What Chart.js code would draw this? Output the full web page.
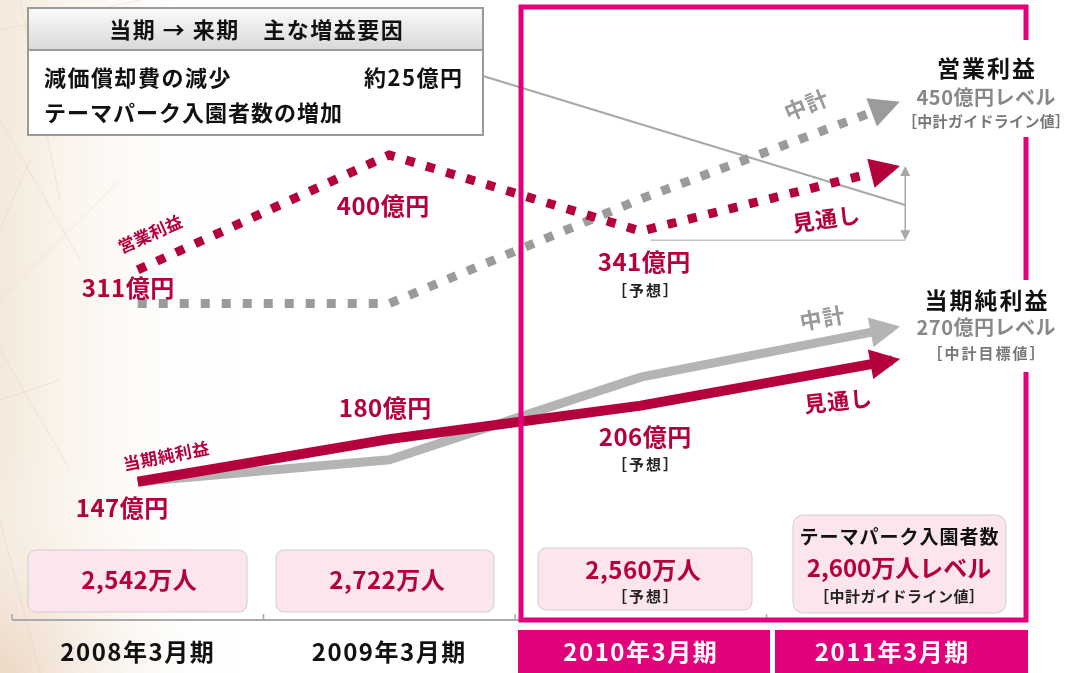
<!DOCTYPE html>
<html><head><meta charset="utf-8">
<script src="https://cdn.jsdelivr.net/npm/chart.js@4.4.0/dist/chart.umd.min.js"></script>
<style>html,body{margin:0;padding:0;background:#fff;overflow:hidden}#wrap{position:relative;width:1065px;height:673px}</style>
</head><body><div id="wrap"><canvas id="c"></canvas></div>
<script>
// ---- data ----
const categories = ['2008年3月期', '2009年3月期', '2010年3月期', '2011年3月期'];
const operatingOutlook = [311, 400, 341, 390];   // 営業利益 実績 → 見通し
const operatingPlan    = [285, 285, 366, 439];   // 中計 (営業利益)
const netOutlook       = [147, 180, 206, 241];   // 当期純利益 実績 → 見通し
const netPlan          = [147, 164, 228, 266];   // 中計 (当期純利益)
const operatingLabels  = ['311億円', '400億円', '341億円'];
const netLabels        = ['147億円', '180億円', '206億円'];
const visitorLabels    = ['2,542万人', '2,722万人', '2,560万人', '2,600万人レベル'];

const CRIMSON = '#b5003e', MAGENTA = '#e3007b', GRAYD = '#9b9b9b', GRAYS = '#b4b4b4';
const FF = '"Noto Sans CJK JP","Noto Sans",sans-serif';

function T(ctx, s, x, y, size, color, opt = {}) {
  ctx.save();
  ctx.translate(x, y);
  if (opt.rot) ctx.rotate(opt.rot * Math.PI / 180);
  ctx.font = `${opt.w || 'bold'} ${size}px ${FF}`;
  ctx.letterSpacing = (opt.ls || 0) + 'px';
  ctx.fillStyle = color;
  ctx.textAlign = opt.align || 'center';
  ctx.textBaseline = 'middle';
  let dx = 0;
  if ((opt.align || 'center') === 'center') dx = (opt.ls || 0) / 2;
  if (opt.align === 'right') dx = (opt.ls || 0);
  ctx.fillText(s, dx, 0);
  ctx.restore();
}
function rr(ctx, x, y, w, h, r, fill, stroke) {
  ctx.beginPath(); ctx.roundRect(x, y, w, h, r);
  if (fill) { ctx.fillStyle = fill; ctx.fill(); }
  if (stroke) { ctx.strokeStyle = stroke; ctx.lineWidth = 1; ctx.stroke(); }
}
function arrowHead(chart, i, color, L, W) {
  const ctx = chart.ctx;
  const pts = chart.getDatasetMeta(i).data;
  const a = pts[pts.length - 2], b = pts[pts.length - 1];
  let dx = b.x - a.x, dy = b.y - a.y; const d = Math.hypot(dx, dy); dx /= d; dy /= d;
  const tx = b.x + dx * 8, ty = b.y + dy * 8, bx = tx - dx * L, by = ty - dy * L;
  ctx.save(); ctx.fillStyle = color; ctx.beginPath();
  ctx.moveTo(tx, ty); ctx.lineTo(bx - dy * W / 2, by + dx * W / 2); ctx.lineTo(bx + dy * W / 2, by - dx * W / 2);
  ctx.closePath(); ctx.fill(); ctx.restore();
}
function smallArrow(ctx, x, y, up) {
  ctx.beginPath(); ctx.moveTo(x, y); ctx.lineTo(x - 5, y + (up ? 10 : -10)); ctx.lineTo(x + 5, y + (up ? 10 : -10)); ctx.closePath(); ctx.fill();
}

const deco = {
  id: 'deco',
  beforeDraw(chart) {
    const { ctx, width, height, chartArea } = chart;
    ctx.save();
    ctx.fillStyle = '#fff'; ctx.fillRect(0, 0, width, height);
    let g = ctx.createLinearGradient(0, 0, 240, 0);
    g.addColorStop(0, 'rgba(240,226,206,0.75)'); g.addColorStop(0.45, 'rgba(248,240,228,0.4)'); g.addColorStop(1, 'rgba(255,255,255,0)');
    ctx.fillStyle = g; ctx.fillRect(0, 0, 240, height);
    let g2 = ctx.createRadialGradient(0, 673, 10, 0, 673, 220);
    g2.addColorStop(0, 'rgba(236,214,196,0.8)'); g2.addColorStop(1, 'rgba(255,255,255,0)');
    ctx.fillStyle = g2; ctx.fillRect(0, 400, 260, 273);
    ctx.strokeStyle = 'rgba(215,200,180,0.35)'; ctx.lineWidth = 1;
    [[0, 30, 140, 0], [0, 120, 80, 260], [20, 0, 60, 200], [0, 300, 120, 180], [0, 350, 70, 470], [0, 400, 60, 380], [0, 520, 40, 673], [30, 160, 0, 230]].forEach(l => {
      ctx.beginPath(); ctx.moveTo(l[0], l[1]); ctx.lineTo(l[2], l[3]); ctx.stroke();
    });
    ctx.fillStyle = MAGENTA;
    ctx.fillRect(518, chartArea.bottom + 10, 252, height - chartArea.bottom - 10);
    ctx.fillRect(775, chartArea.bottom + 10, 253, height - chartArea.bottom - 10);
    ctx.restore();
    ctx.letterSpacing = '1.5px'; // spacing for the axis tick labels
  },
  beforeDatasetsDraw(chart) {
    const { ctx, chartArea, scales } = chart;
    ctx.letterSpacing = '0px';
    const x = scales.x;
    const cw = x.getPixelForValue(1) - x.getPixelForValue(0);
    ctx.save();
    ctx.strokeStyle = '#aaaaaa'; ctx.lineWidth = 2;
    ctx.beginPath(); ctx.moveTo(chartArea.left, chartArea.bottom); ctx.lineTo(chartArea.right, chartArea.bottom); ctx.stroke();
    ctx.lineWidth = 1.5;
    for (let i = 0; i < 4; i++) {
      const bx = x.getPixelForValue(i) - cw / 2;
      ctx.beginPath(); ctx.moveTo(bx, chartArea.bottom - 6); ctx.lineTo(bx, chartArea.bottom); ctx.stroke();
    }
    rr(ctx, 28, 550, 219, 62, 8, '#fde5ef', '#cfcfcf');
    rr(ctx, 276, 550, 218, 62, 8, '#fde5ef', '#cfcfcf');
    rr(ctx, 538, 548, 214, 62, 8, '#fde5ef', '#cfcfcf');
    rr(ctx, 793, 515, 213, 98, 10, '#fde5ef', '#cfcfcf');
    T(ctx, visitorLabels[0], 139, 580, 24, CRIMSON, { ls: 0.5 });
    T(ctx, visitorLabels[1], 387, 580, 24, CRIMSON, { ls: 0.5 });
    T(ctx, visitorLabels[2], 643, 570, 24, CRIMSON, { ls: 0.5 });
    T(ctx, '［予想］', 645, 596, 15, '#222', { ls: 2 });
    T(ctx, 'テーマパーク入園者数', 899, 537, 19, '#111', { ls: 1 });
    T(ctx, visitorLabels[3], 899, 568, 24, CRIMSON, { ls: 0 });
    T(ctx, '［中計ガイドライン値］', 899, 596, 15, '#222', { ls: 0.5 });
    ctx.fillStyle = '#fff'; ctx.fillRect(28, 8, 455, 127);
    let g = ctx.createLinearGradient(0, 9, 0, 50);
    g.addColorStop(0, '#fafafa'); g.addColorStop(1, '#d9d9d9');
    ctx.fillStyle = g; ctx.fillRect(29, 9, 453, 41);
    ctx.strokeStyle = '#9a9a9a'; ctx.lineWidth = 2;
    ctx.strokeRect(28, 8, 455, 127);
    ctx.beginPath(); ctx.moveTo(28, 50); ctx.lineTo(483, 50); ctx.stroke();
    T(ctx, '当期 → 来期　主な増益要因', 256, 30, 22, '#111', { ls: 1.5 });
    T(ctx, '減価償却費の減少', 44, 78, 22, '#111', { align: 'left', ls: 1.5 });
    T(ctx, '約25億円', 462, 78, 22, '#111', { align: 'right', ls: 1.5 });
    T(ctx, 'テーマパーク入園者数の増加', 44, 113, 22, '#111', { align: 'left', ls: 1 });
    const y = scales.y;
    const pts0 = chart.getDatasetMeta(0).data;
    const vx = pts0[3].x + 13;
    const yTop = y.getPixelForValue(operatingOutlook[3]) - 2, yBot = y.getPixelForValue(operatingOutlook[2]) + 9;
    ctx.strokeStyle = '#a8a8a8'; ctx.lineWidth = 2;
    ctx.beginPath(); ctx.moveTo(483, 76); ctx.lineTo(vx, 205); ctx.stroke();
    ctx.strokeStyle = '#c4c4c4'; ctx.lineWidth = 1.5;
    ctx.beginPath(); ctx.moveTo(pts0[2].x + 10, yBot); ctx.lineTo(vx, yBot); ctx.stroke();
    ctx.strokeStyle = '#a8a8a8';
    ctx.beginPath(); ctx.moveTo(vx, yTop + 6); ctx.lineTo(vx, yBot - 6); ctx.stroke();
    ctx.fillStyle = '#a8a8a8'; smallArrow(ctx, vx, yTop, true); smallArrow(ctx, vx, yBot, false);
    ctx.restore();
  },
  afterDatasetsDraw(chart) {
    const { ctx } = chart;
    arrowHead(chart, 1, GRAYD, 30, 30);
    arrowHead(chart, 0, CRIMSON, 30, 30);
    arrowHead(chart, 3, GRAYS, 30, 30);
    arrowHead(chart, 2, CRIMSON, 30, 30);
    ctx.save();
    ctx.strokeStyle = MAGENTA; ctx.lineWidth = 5;
    ctx.strokeRect(521, 7, 505, 613);
    ctx.fillStyle = '#fff';
    ctx.fillRect(912, 40, 153, 97);
    ctx.fillRect(912, 280, 153, 92);
    T(ctx, '営業利益', 986, 68, 23, '#111', { ls: 2 });
    T(ctx, '450億円レベル', 986, 97, 20, '#888', { ls: 0.5 });
    T(ctx, '［中計ガイドライン値］', 986, 121, 15, '#777', { ls: 0.3 });
    T(ctx, '当期純利益', 986, 300, 23, '#111', { ls: 2 });
    T(ctx, '270億円レベル', 986, 327, 20, '#888', { ls: 0.5 });
    T(ctx, '［中計目標値］', 986, 353, 15, '#777', { ls: 2 });
    T(ctx, operatingLabels[0], 128, 288, 24, CRIMSON, { ls: 0.5 });
    T(ctx, operatingLabels[1], 383, 206, 24, CRIMSON, { ls: 0.5 });
    T(ctx, operatingLabels[2], 644, 262, 24, CRIMSON, { ls: 0.5 });
    T(ctx, '［予想］', 645, 290, 15, '#222', { ls: 2 });
    T(ctx, netLabels[0], 122, 508, 24, CRIMSON, { ls: 0.5 });
    T(ctx, netLabels[1], 385, 408, 24, CRIMSON, { ls: 0.5 });
    T(ctx, netLabels[2], 645, 437, 24, CRIMSON, { ls: 0.5 });
    T(ctx, '［予想］', 645, 464, 15, '#222', { ls: 2 });
    T(ctx, '営業利益', 150, 234, 17, CRIMSON, { rot: -24 });
    T(ctx, '当期純利益', 166, 456, 17, CRIMSON, { rot: -11, ls: 0.5 });
    T(ctx, '中計', 806, 105, 22, '#999', { rot: -22, ls: 1 });
    T(ctx, '見通し', 826, 219, 22, CRIMSON, { rot: -8, ls: 1 });
    T(ctx, '中計', 822, 318, 22, '#999', { rot: -10, ls: 1 });
    T(ctx, '見通し', 838, 401, 22, CRIMSON, { rot: -6, ls: 1 });
    ctx.restore();
  }
};

new Chart(document.getElementById('c'), {
  type: 'line',
  data: {
    labels: categories,
    datasets: [
      { label: '営業利益 見通し', data: operatingOutlook, borderColor: CRIMSON, borderWidth: 9, borderDash: [9, 12], borderCapStyle: 'butt', pointRadius: 0, tension: 0 },
      { label: '営業利益 中計', data: operatingPlan, borderColor: GRAYD, borderWidth: 9, borderDash: [9, 12], borderCapStyle: 'butt', pointRadius: 0, tension: 0 },
      { label: '当期純利益 見通し', data: netOutlook, borderColor: CRIMSON, borderWidth: 10, borderCapStyle: 'butt', borderJoinStyle: 'miter', pointRadius: 0, tension: 0 },
      { label: '当期純利益 中計', data: netPlan, borderColor: GRAYS, borderWidth: 9, borderCapStyle: 'butt', borderJoinStyle: 'miter', pointRadius: 0, tension: 0 }
    ]
  },
  options: {
    responsive: true, maintainAspectRatio: false, animation: false,
    clip: false,
    layout: { padding: { left: 12, right: 47, top: 0, bottom: 0 } },
    plugins: { legend: { display: false }, tooltip: { enabled: false } },
    scales: {
      x: {
        offset: true,
        grid: { display: false, drawTicks: false },
        border: { display: false },
        ticks: {
          padding: 17,
          font: { family: FF, size: 24, weight: 'bold' },
          color: (c) => c.index >= 2 ? '#ffffff' : '#111111'
        },
        afterFit(s) { s.height = 53; }
      },
      y: { display: false, min: 40, max: 520 }
    }
  },
  plugins: [deco]
});
</script>
</body></html>
